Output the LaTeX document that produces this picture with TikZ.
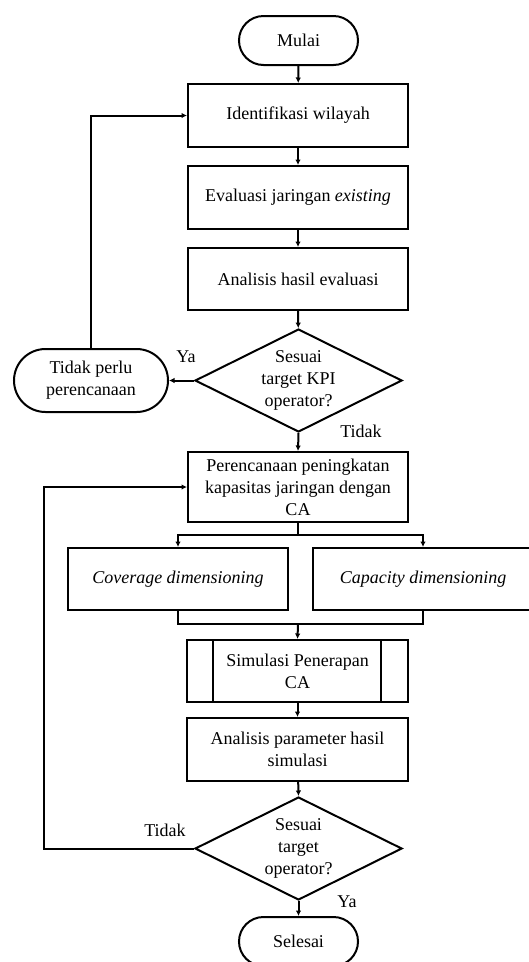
\documentclass[tikz,border=0pt]{standalone}
\usepackage{fontspec}
\setmainfont{Liberation Serif}
\usepackage{tikz}
\usetikzlibrary{calc}
\usetikzlibrary{shapes.geometric,shapes.misc}
\usetikzlibrary{arrows.meta}

\begin{document}
\begin{tikzpicture}[x=1pt,y=-1pt,line width=2pt]
	\tikzstyle{kotak}=[draw,rectangle,minimum width=220pt,minimum height=63pt,inner sep=2pt,align=center,font=\fontsize{18}{22}\selectfont];
	\tikzstyle{ujung}=[draw,rounded rectangle,minimum width=123pt,minimum height=49pt,inner sep=2pt,align=center,font=\fontsize{18}{22}\selectfont];
	\tikzstyle{pilih}=[draw,diamond,shape aspect=2,minimum width=207pt,minimum height=103pt,inner sep=0pt,align=center,font=\fontsize{18}{22}\selectfont];
	\tikzstyle{teks}=[inner sep=0pt,font=\fontsize{18}{22}\selectfont];
	\tikzstyle{panah}=[-{Latex[length=5.5pt,width=5.5pt]}];
	%%
	\useasboundingbox[fill=white] (0,0) rectangle (528,962);
	%%
	\node[ujung] (mulai)   at (298.5,40.5) {Mulai};
	\node[kotak] (ident)   at (298,115.5)  {Identifikasi wilayah};
	\node[kotak] (eval)    at (298,197.5)  {Evaluasi jaringan \textit{existing}};
	\node[kotak,minimum height=62pt] (hasil) at (298,279) {Analisis hasil evaluasi};
	\node[pilih] (kpi)     at (298.5,380.5) {Sesuai\\target KPI\\operator?};
	\node[ujung,minimum width=158pt,minimum height=63pt] (tidakperlu) at (91,380.5) {Tidak perlu\\perencanaan};
	\node[kotak,minimum height=70pt,inner sep=0pt] (rencana) at (298,487) {Perencanaan peningkatan\\kapasitas jaringan dengan\\CA};
	\node[kotak,minimum height=62pt] (coverage) at (178,579) {\textit{Coverage dimensioning}};
	\node[kotak,minimum height=62pt] (capacity) at (423,579) {\textit{Capacity dimensioning}};
	\node[kotak,minimum width=221pt,minimum height=62pt] (simulasi) at (297.5,671) {Simulasi Penerapan\\CA};
	\node[kotak,minimum width=221pt] (param) at (297.5,749.5) {Analisis parameter hasil\\simulasi};
	\node[pilih] (target)  at (298.5,848.5) {Sesuai\\target\\operator?};
	\node[ujung] (selesai) at (298.5,941.5) {Selesai};
	%%
	\coordinate (pecah)  at (298,535);
	\coordinate (gabung) at (298,624);
	\coordinate (rel)    at (44,487);
	%%
	\draw ($(simulasi.north west)+(27,0)$) -- ($(simulasi.south west)+(27,0)$);
	\draw ($(simulasi.north east)+(-28,0)$) -- ($(simulasi.south east)+(-28,0)$);
	%%
	\draw[panah] (mulai) -- (ident);
	\draw[panah] (ident) -- (eval);
	\draw[panah] (eval) -- (hasil);
	\draw[panah] (hasil) -- (kpi);
	\draw[panah] (kpi.west) -- (tidakperlu.east);
	\draw[panah] (tidakperlu.north) |- (ident.west);
	\draw[panah] (kpi.south) -- (rencana.north);
	\draw (rencana.south) -- (pecah);
	\draw[panah] (pecah) -| (coverage.north);
	\draw[panah] (pecah) -| (capacity.north);
	\draw (coverage.south) |- (gabung);
	\draw (capacity.south) |- (gabung);
	\draw[panah] (gabung) -- (simulasi.north);
	\draw[panah] (simulasi) -- (param);
	\draw[panah] (param) -- (target.north);
	\draw[panah] (target.south) -- (selesai.north);
	\draw[panah] (target.west) -| (rel) -- (rencana.west);
	%%
	\node[teks] (ya1)    at (186,357) {Ya};
	\node[teks] (tidak1) at (361,431) {Tidak};
	\node[teks] (tidak2) at (165,830) {Tidak};
	\node[teks] (ya2)    at (347,902) {Ya};
\end{tikzpicture}
\end{document}
